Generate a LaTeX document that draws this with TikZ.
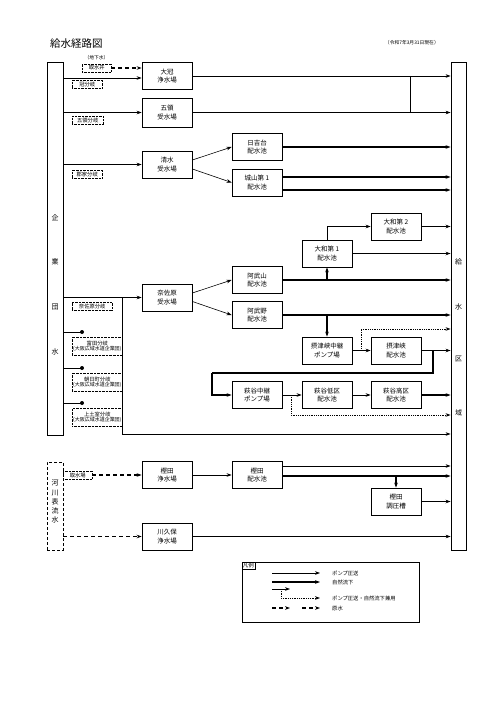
\documentclass[tikz,border=0pt]{standalone}
\usepackage{fontspec}
\setmainfont{Noto Sans CJK JP}
\usetikzlibrary{arrows.meta,calc}
\begin{document}
\begin{tikzpicture}[x=1bp,y=-1bp,
  >={Stealth[length=5bp,width=3.6bp]},
  box/.style={draw, line width=0.8bp, minimum width=50bp, minimum height=27bp, inner sep=0pt, align=center, font=\fontsize{6.5bp}{8.5bp}\selectfont},
  bigbox/.style={draw, line width=0.9bp, minimum width=16bp, inner sep=0pt},
  vchar/.style={inner sep=0pt, font=\fontsize{7bp}{7bp}\selectfont},
  brlabel/.style={draw, densely dotted, line width=0.4bp, inner sep=1bp, font=\fontsize{5.3bp}{6bp}\selectfont, anchor=west, minimum height=8bp, align=center},
  tiny/.style={font=\fontsize{3.2bp}{4bp}\selectfont},
  thinline/.style={line width=0.6bp},
  thickline/.style={line width=1.1bp},
  rawline/.style={line width=1.1bp, dash pattern=on 4bp off 3bp},
  dotline/.style={line width=0.8bp, densely dotted},
  legtext/.style={anchor=west, inner sep=0pt, font=\fontsize{5.3bp}{6bp}\selectfont}
]
\useasboundingbox (0,0) rectangle (499,707);
\fill[white] (0,0) rectangle (499,707);

% title and date
\node[anchor=west, inner sep=0pt, font=\fontsize{10.5bp}{11bp}\selectfont] (title) at (50,44) {給水経路図};
\node[anchor=east, inner sep=0pt, font=\fontsize{4.8bp}{5bp}\selectfont] (date) at (439,43) {（令和7年3月31日現在）};

% big side boxes
\node[bigbox, minimum height=373bp] (kigyo) at (55,248.5) {};
\node[vchar] (kc1) at (55,218) {企};
\node[vchar] (kc2) at (55,262) {業};
\node[vchar] (kc3) at (55,307) {団};
\node[vchar] (kc4) at (55,352) {水};

\node[draw, line width=0.9bp, dash pattern=on 3bp off 2bp, minimum width=16bp, minimum height=88bp, inner sep=0pt] (kasen) at (55,506) {};
\node[vchar] (rc1) at (55,483) {河};
\node[vchar] (rc2) at (55,493) {川};
\node[vchar] (rc3) at (55,502) {表};
\node[vchar] (rc4) at (55,511) {流};
\node[vchar] (rc5) at (55,520) {水};

\node[bigbox, minimum width=15bp, minimum height=488bp] (area) at (458.5,306) {};
\node[vchar] (ac1) at (458.5,262) {給};
\node[vchar] (ac2) at (458.5,307) {水};
\node[vchar] (ac3) at (458.5,359) {区};
\node[vchar] (ac4) at (458.5,413) {域};

% facilities
\node[box] (daikan) at (167,76) {大冠\\浄水場};
\node[box, minimum height=29bp] (goryo) at (167,112.5) {五領\\受水場};
\node[box] (shimizu) at (167,164.5) {清水\\受水場};
\node[box] (hiyoshi) at (257,147) {日吉台\\配水池};
\node[box] (shiroyama) at (257,182.5) {城山第 1\\配水池};
\node[box] (yamato2) at (396,226.5) {大和第 2\\配水池};
\node[box] (yamato1) at (327,253.5) {大和第 1\\配水池};
\node[box] (nasahara) at (167,297.5) {奈佐原\\受水場};
\node[box] (abuyama) at (257,280) {阿武山\\配水池};
\node[box] (abuno) at (257,315) {阿武野\\配水池};
\node[box] (spump) at (327,350.5) {摂津峡中継\\ポンプ場};
\node[box] (spool) at (396,350.5) {摂津峡\\配水池};
\node[box] (hpump) at (257,395) {萩谷中継\\ポンプ場};
\node[box] (hlow) at (327,395) {萩谷低区\\配水池};
\node[box] (hhigh) at (396,395) {萩谷高区\\配水池};
\node[box] (kplant) at (167,475) {樫田\\浄水場};
\node[box] (kpool) at (257,475) {樫田\\配水池};
\node[box] (kchou) at (396,501.5) {樫田\\調圧槽};
\node[box] (kawakubo) at (167,536.5) {川久保\\浄水場};

% branch labels
\node[inner sep=0pt, font=\fontsize{4.8bp}{5bp}\selectfont] (chika) at (96.5,58) {（地下水）};
\node[brlabel, minimum width=29bp] (idoi) at (82,68) {取水井};
\node[brlabel, minimum width=30bp] (b1) at (72,84) {冠分岐};
\node[brlabel, minimum width=31bp] (b2) at (72,120.5) {五領分岐};
\node[brlabel, minimum width=30bp] (b3) at (72,174) {郡家分岐};
\node[brlabel, minimum width=40bp] (b4) at (72,306.5) {奈佐原分岐};
\node[brlabel, minimum width=40bp, minimum height=18bp] (b5) at (72,346) {富田分岐\\[-1bp]{\tiny (大阪広域水道企業団)}};
\node[brlabel, minimum width=40bp, minimum height=18bp] (b6) at (72,382) {朝日町分岐\\[-1bp]{\tiny (大阪広域水道企業団)}};
\node[brlabel, minimum width=40bp, minimum height=18bp] (b7) at (72,417.5) {上土室分岐\\[-1bp]{\tiny (大阪広域水道企業団)}};
\node[brlabel, minimum width=29bp] (shusui) at (63,475) {取水場};

% helper coordinates
\coordinate (a1) at ($(daikan.west)+(0,2)$);
\coordinate (a0) at ($(daikan.west)+(0,-8)$);
\coordinate (j1) at (410,0);
\coordinate (nb) at (122,297.5);
\coordinate (nb2) at (122,434);
\coordinate (t1) at (82,332);
\coordinate (t2) at (82,368);
\coordinate (t3) at (82,403);
\coordinate (d1) at (361,350.5);
\coordinate (d1top) at (361,329);
\coordinate (j2) at (433,350.5);
\coordinate (j3) at (212,373);
\coordinate (d2) at (291,395);
\coordinate (yd2) at (0,415);

% from 企業団
\draw[thinline,->] (kigyo.east |- a1) -- (a1);
\draw[thinline,->] (kigyo.east |- goryo.west) -- (goryo.west);
\draw[thinline,->] (kigyo.east |- shimizu.west) -- (shimizu.west);
\draw[thinline,->] (kigyo.east |- nasahara.west) -- (nasahara.west);
\draw[thinline,->] (nb) -- (nb2) -- (nb2 -| area.west);
\foreach \t in {t1,t2,t3}{
  \draw[thinline] (kigyo.east |- \t) -- (\t);
  \fill (\t) circle (2bp);
}
\draw[rawline,->] (idoi.east) -- (a0);

% 大冠・五領
\draw[thinline,->] (daikan.east) -- (daikan.east -| area.west);
\draw[thinline,->] (goryo.east) -- (goryo.east -| area.west);
\draw[thinline] (daikan.east -| j1) -- (goryo.east -| j1);

% 清水
\draw[thinline,->] ($(shimizu.east)+(0,-4.5)$) -- (hiyoshi.west);
\draw[thinline,->] ($(shimizu.east)+(0,4.5)$) -- (shiroyama.west);
\draw[thickline,->] (hiyoshi.east) -- (hiyoshi.east -| area.west);
\draw[thickline,->] ($(shiroyama.east)+(0,-5.5)$) -- ($(shiroyama.east -| area.west)+(0,-5.5)$);
\draw[thickline,->] ($(shiroyama.east)+(0,7.5)$) -- ($(shiroyama.east -| area.west)+(0,7.5)$);

% 大和
\draw[thinline,->] (yamato1.north) |- (yamato2.west);
\draw[thickline,->] (yamato2.east) -- (yamato2.east -| area.west);
\draw[thickline,->] (yamato1.east) -- (yamato1.east -| area.west);

% 奈佐原
\draw[thinline,->] ($(nasahara.east)+(0,-4.5)$) -- (abuyama.west);
\draw[thinline,->] ($(nasahara.east)+(0,4)$) -- (abuno.west);
\draw[thickline,->] (abuyama.east) -- (abuyama.east -| area.west);
\draw[thickline,->] (abuyama.east -| yamato1.south) -- (yamato1.south);
\draw[thickline,->] (abuno.east) -- (abuno.east -| area.west);
\draw[thickline,->] (abuno.east -| spump.north) -- (spump.north);

% 摂津峡
\draw[thinline,->] (spump.east) -- (spool.west);
\draw[dotline,->] (d1) -- (d1top) -- (d1top -| area.west);
\draw[thickline,->] (spool.east) -- (spool.east -| area.west);
\draw[thickline] (j2) |- (j3);
\draw[thickline,->] (j3) |- (hpump.west);

% 萩谷
\draw[thinline,->] (hpump.east) -- (hlow.west);
\draw[thinline,->] (hlow.east) -- (hhigh.west);
\draw[thickline,->] (hhigh.east) -- (hhigh.east -| area.west);
\draw[dotline,->] (d2) |- (area.west |- yd2);

% 河川表流水
\draw[rawline,->] (shusui.east) -- (kplant.west);
\draw[thinline,->] (kplant.east) -- (kpool.west);
\draw[thinline,->] ($(kpool.east)+(0,-9)$) -- ($(kpool.east -| area.west)+(0,-9)$);
\draw[thickline,->] ($(kpool.east)+(0,1)$) -- ($(kpool.east -| area.west)+(0,1)$);
\draw[thickline,->] ($(kpool.east -| kchou.north)+(0,1)$) -- (kchou.north);
\draw[thickline,->] (kchou.east) -- (kchou.east -| area.west);
\draw[rawline,->] (kasen.east |- kawakubo.west) -- (kawakubo.west);
\draw[thinline,->] (kawakubo.east) -- (kawakubo.east -| area.west);

% legend
\node[draw, line width=0.7bp, minimum width=177bp, minimum height=60bp, inner sep=0pt] (legend) at (330.5,592) {};
\node[draw, line width=0.5bp, anchor=north west, inner sep=1bp, font=\fontsize{5.5bp}{6bp}\selectfont] (hanrei) at (legend.north west) {凡例};
\coordinate (l1a) at (272,573); \coordinate (l1b) at (320,573);
\coordinate (l2a) at (272,582); \coordinate (l2b) at (320,582);
\coordinate (l3a) at (272,589); \coordinate (l3b) at (290,589);
\coordinate (l3c) at (281,589); \coordinate (l3d) at (320,598);
\coordinate (l4a) at (272,608); \coordinate (l4b) at (290,608);
\coordinate (l4c) at (302,608); \coordinate (l4d) at (320,608);
\draw[thinline,->] (l1a) -- (l1b);
\draw[thickline,->] (l2a) -- (l2b);
\draw[thinline,->] (l3a) -- (l3b);
\draw[dotline,->] (l3c) |- (l3d);
\draw[rawline,->] (l4a) -- (l4b);
\draw[rawline,->] (l4c) -- (l4d);
\node[legtext] (lt1) at (332,573) {ポンプ圧送};
\node[legtext] (lt2) at (332,582) {自然流下};
\node[legtext] (lt3) at (332,598) {ポンプ圧送・自然流下兼用};
\node[legtext] (lt4) at (332,608) {原水};
\end{tikzpicture}
\end{document}
